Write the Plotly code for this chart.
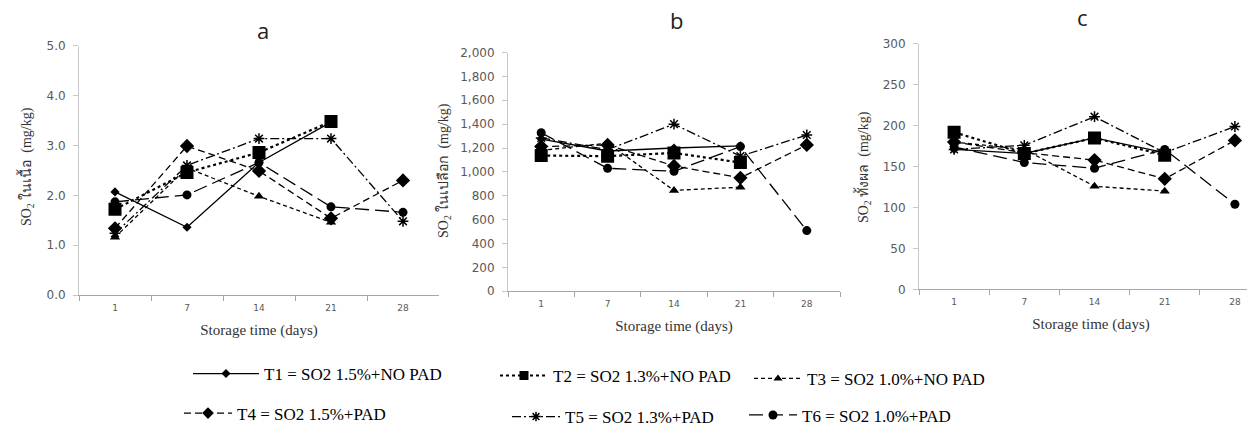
import plotly.graph_objects as go

days = ["1", "7", "14", "21", "28"]
names = ["T1 = SO2 1.5%+NO PAD", "T2 = SO2 1.3%+NO PAD", "T3 = SO2 1.0%+NO PAD",
         "T4 = SO2 1.5%+PAD", "T5 = SO2 1.3%+PAD", "T6 = SO2 1.0%+PAD"]

# panel a: SO2 in flesh (mg/kg)
a_T1 = [2.07, 1.36, 2.66, 3.47, None]
a_T2 = [1.72, 2.46, 2.86, 3.48, None]
a_T3 = [1.16, 2.55, 1.98, 1.46, None]
a_T4 = [1.34, 2.99, 2.49, 1.54, 2.30]
a_T5 = [1.24, 2.60, 3.14, 3.14, 1.48]
a_T6 = [1.87, 2.01, 2.66, 1.77, 1.66]

# panel b: SO2 in peel (mg/kg)
b_T1 = [1275, 1175, 1200, 1218, None]
b_T2 = [1137, 1132, 1159, 1078, None]
b_T3 = [1180, 1240, 845, 872, None]
b_T4 = [1212, 1226, 1050, 950, 1226]
b_T5 = [1285, 1186, 1400, 1132, 1309]
b_T6 = [1328, 1030, 1005, 1212, 508]

# panel c: SO2 whole fruit (mg/kg)
c_T1 = [171, 166, 185, 167, None]
c_T2 = [192, 166, 185, 164, None]
c_T3 = [180, 171, 126, 120, None]
c_T4 = [180, 167, 158, 135, 182]
c_T5 = [171, 176, 211, 167, 199]
c_T6 = [174, 155, 148, 171, 104]

panel_titles = ["a", "b", "c"]
y_titles = ["SO<sub>2</sub> ในเนื้อ  (mg/kg)", "SO<sub>2</sub> ในเปลือก  (mg/kg)",
            "SO<sub>2</sub> ทั้งผล  (mg/kg)"]
x_title = "Storage time (days)"

W, H = 1255, 427

def px_x(p):
    return p / W

def px_y(p):
    return 1 - p / H

SERIF = "Liberation Serif, Times New Roman, serif"

styles = [
    dict(dash="solid", symbol="diamond", size=7, lsize=7, lw=1.3),
    dict(dash="dot", symbol="square", size=13, lsize=9, lw=2.2),
    dict(dash="4px,3px", symbol="triangle-up", size=9, lsize=8, lw=1.3),
    dict(dash="7px,4px", symbol="diamond", size=11, lsize=9, lw=1.3),
    dict(dash="9px,3px,2px,3px", symbol="asterisk-open", size=9, lsize=8, lw=1.3),
    dict(dash="14px,6px", symbol="circle", size=9, lsize=9, lw=1.3),
]

panels = [
    [a_T1, a_T2, a_T3, a_T4, a_T5, a_T6],
    [b_T1, b_T2, b_T3, b_T4, b_T5, b_T6],
    [c_T1, c_T2, c_T3, c_T4, c_T5, c_T6],
]

def marker_of(s, size):
    return dict(symbol=s["symbol"], size=size, color="black",
                line=dict(color="black", width=1.5 if s["symbol"] == "asterisk-open" else 0))

fig = go.Figure()
legend_keys = ["legend", "legend2", "legend3", "legend4", "legend5", "legend6"]
for p, series in enumerate(panels):
    xa = "x" if p == 0 else f"x{p+1}"
    ya = "y" if p == 0 else f"y{p+1}"
    for i, vals in enumerate(series):
        s = styles[i]
        fig.add_trace(go.Scatter(
            x=days, y=vals, xaxis=xa, yaxis=ya, mode="lines+markers",
            name=names[i], showlegend=False, connectgaps=False,
            line=dict(color="black", width=s["lw"], dash=s["dash"]),
            marker=marker_of(s, s["size"]),
        ))

# legend-only entries (no points), with smaller key markers as in the reference legend
for i, s in enumerate(styles):
    fig.add_trace(go.Scatter(
        x=[None], y=[None], mode="lines+markers", name=names[i],
        legend=legend_keys[i], showlegend=True, hoverinfo="skip",
        line=dict(color="black", width=s["lw"], dash=s["dash"]),
        marker=marker_of(s, s["lsize"]),
    ))

# axis geometry (pixels)
geo = [
    dict(x0=71, x1=431, ytop=32, ybot=291, rng=[0, 5], dtick=1.0, fmt=".1f", xr=[-0.5, 4.5]),
    dict(x0=500, x1=832, ytop=39, ybot=287, rng=[0, 2000], dtick=200, fmt=",d", xr=[-0.5, 4.5]),
    dict(x0=911, x1=1255, ytop=30, ybot=285, rng=[0, 300], dtick=50, fmt="d", xr=[-0.5, 4.4]),
]
axis_gray = "#A6A6A6"
tick_font = dict(family="DejaVu Sans", size=12, color="#595959")
for p, g in enumerate(geo):
    sfx = "" if p == 0 else str(p + 1)
    fig.layout["xaxis" + sfx] = dict(
        domain=[px_x(g["x0"]), px_x(g["x1"])], anchor="y" + sfx,
        type="category", range=g["xr"], tickson="boundaries",
        ticks="outside", ticklen=5, tickcolor=axis_gray,
        showline=True, linecolor=axis_gray, linewidth=1, showgrid=False,
        zeroline=False, tickfont=dict(family="DejaVu Sans", size=9, color="#595959"),
        ticklabelstandoff=4,
        title=dict(text=x_title, font=dict(family=SERIF, size=15, color="#333333"), standoff=12),
        fixedrange=True,
    )
    fig.layout["yaxis" + sfx] = dict(
        domain=[px_y(g["ybot"]), px_y(g["ytop"])], anchor="x" + sfx,
        range=g["rng"], dtick=g["dtick"], tick0=0, tickformat=g["fmt"],
        ticks="outside", ticklen=5, tickcolor="#C8C8C8", ticklabelstandoff=5,
        showline=True, linecolor="#C8C8C8", linewidth=1, showgrid=False,
        zeroline=False, tickfont=tick_font,
    )

ann = []
title_pos = [(255, 16), (668, 5), (1074, 2)]
for t, (tx, ty) in zip(panel_titles, title_pos):
    ann.append(dict(text=t, x=px_x(tx), y=px_y(ty), xref="paper", yref="paper",
                    showarrow=False, xanchor="center", yanchor="middle",
                    font=dict(family="Open Sans", size=22, color="#222222")))
ytitle_pos = [(18, 158), (436, 162), (855, 158)]
for t, (tx, ty) in zip(y_titles, ytitle_pos):
    ann.append(dict(text=t, x=px_x(tx), y=px_y(ty), xref="paper", yref="paper",
                    showarrow=False, xanchor="center", yanchor="middle", textangle=-90,
                    font=dict(family=SERIF, size=14, color="#333333")))

# legends, one per series
leg_pos = [(180, 373, 66), (487, 375, 48), (741, 378, 48),
           (171, 414, 48), (499, 418, 48), (736, 416, 48)]
layout_leg = {}
for key, (lx, ly, iw) in zip(legend_keys, leg_pos):
    layout_leg[key] = dict(x=px_x(lx), y=px_y(ly), xanchor="left", yanchor="middle",
                           orientation="h", itemwidth=iw,
                           bgcolor="rgba(0,0,0,0)",
                           font=dict(family=SERIF, size=17, color="black"),
                           itemclick=False, itemdoubleclick=False)

fig.update_layout(
    width=W, height=H, margin=dict(l=0, r=0, t=0, b=0),
    paper_bgcolor="white", plot_bgcolor="white",
    font=dict(family=SERIF, size=14, color="black"),
    annotations=ann, **layout_leg,
)

fig.write_html("out.html")
